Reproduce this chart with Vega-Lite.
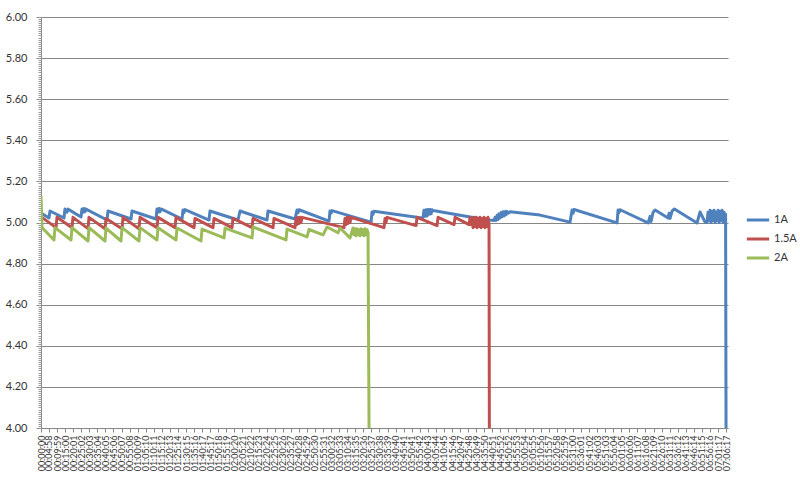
{
  "$schema": "https://vega.github.io/schema/vega-lite/v6.json",
  "width": 687,
  "height": 411,
  "autosize": {"type": "none"},
  "padding": {"left": 41, "top": 17, "right": 72, "bottom": 52},
  "background": "white",
  "config": {"view": {"stroke": null}, "font": "Lato"},
  "data": {"values": [
    {"s":"1A","t":0,"v":5.046},{"s":"1A","t":299,"v":5.022},{"s":"1A","t":336,"v":5.056},{"s":"1A","t":859,"v":5.022},{"s":"1A","t":896,"v":5.066},{"s":"1A","t":971,"v":5.05},{"s":"1A","t":1008,"v":5.065},{"s":"1A","t":1494,"v":5.027},{"s":"1A","t":1531,"v":5.066},{"s":"1A","t":1568,"v":5.05},{"s":"1A","t":1605,"v":5.068},{"s":"1A","t":1643,"v":5.052},{"s":"1A","t":1680,"v":5.065},{"s":"1A","t":2464,"v":5.012},{"s":"1A","t":2502,"v":5.056},{"s":"1A","t":3361,"v":5.017},{"s":"1A","t":3398,"v":5.056},{"s":"1A","t":4294,"v":5.017},{"s":"1A","t":4331,"v":5.066},{"s":"1A","t":4369,"v":5.05},{"s":"1A","t":4406,"v":5.068},{"s":"1A","t":4443,"v":5.052},{"s":"1A","t":4481,"v":5.066},{"s":"1A","t":5265,"v":5.017},{"s":"1A","t":5302,"v":5.061},{"s":"1A","t":5340,"v":5.048},{"s":"1A","t":5377,"v":5.063},{"s":"1A","t":6273,"v":5.012},{"s":"1A","t":6310,"v":5.056},{"s":"1A","t":7356,"v":5.012},{"s":"1A","t":7431,"v":5.056},{"s":"1A","t":8439,"v":5.012},{"s":"1A","t":8476,"v":5.056},{"s":"1A","t":9484,"v":5.017},{"s":"1A","t":9559,"v":5.061},{"s":"1A","t":9596,"v":5.048},{"s":"1A","t":9634,"v":5.062},{"s":"1A","t":10754,"v":5.007},{"s":"1A","t":10791,"v":5.056},{"s":"1A","t":10829,"v":5.045},{"s":"1A","t":10866,"v":5.058},{"s":"1A","t":12322,"v":5.002},{"s":"1A","t":12360,"v":5.051},{"s":"1A","t":12397,"v":5.04},{"s":"1A","t":12434,"v":5.055},{"s":"1A","t":14227,"v":5.022},{"s":"1A","t":14265,"v":5.025},{"s":"1A","t":14300,"v":5.06},{"s":"1A","t":14340,"v":5.03},{"s":"1A","t":14375,"v":5.062},{"s":"1A","t":14415,"v":5.032},{"s":"1A","t":14450,"v":5.063},{"s":"1A","t":14490,"v":5.04},{"s":"1A","t":14525,"v":5.063},{"s":"1A","t":14565,"v":5.042},{"s":"1A","t":14600,"v":5.062},{"s":"1A","t":14638,"v":5.058},{"s":"1A","t":16019,"v":5.027},{"s":"1A","t":16765,"v":5.012},{"s":"1A","t":16915,"v":5.01},{"s":"1A","t":16952,"v":5.025},{"s":"1A","t":16990,"v":5.01},{"s":"1A","t":17030,"v":5.035},{"s":"1A","t":17065,"v":5.015},{"s":"1A","t":17100,"v":5.042},{"s":"1A","t":17140,"v":5.022},{"s":"1A","t":17180,"v":5.048},{"s":"1A","t":17215,"v":5.028},{"s":"1A","t":17250,"v":5.052},{"s":"1A","t":17290,"v":5.032},{"s":"1A","t":17330,"v":5.053},{"s":"1A","t":17365,"v":5.038},{"s":"1A","t":17400,"v":5.054},{"s":"1A","t":17440,"v":5.045},{"s":"1A","t":17512,"v":5.052},{"s":"1A","t":18633,"v":5.036},{"s":"1A","t":19753,"v":5.002},{"s":"1A","t":19828,"v":5.061},{"s":"1A","t":19865,"v":5.045},{"s":"1A","t":19903,"v":5.063},{"s":"1A","t":21508,"v":4.998},{"s":"1A","t":21546,"v":5.061},{"s":"1A","t":21583,"v":5.048},{"s":"1A","t":21620,"v":5.062},{"s":"1A","t":22667,"v":4.998},{"s":"1A","t":22741,"v":5.03},{"s":"1A","t":22779,"v":5.005},{"s":"1A","t":22854,"v":5.05},{"s":"1A","t":22928,"v":5.061},{"s":"1A","t":23413,"v":5.022},{"s":"1A","t":23450,"v":5.045},{"s":"1A","t":23487,"v":5.02},{"s":"1A","t":23562,"v":5.055},{"s":"1A","t":23650,"v":5.066},{"s":"1A","t":24495,"v":4.998},{"s":"1A","t":24607,"v":5.051},{"s":"1A","t":24794,"v":5.002},{"s":"1A","t":24868,"v":5.0},{"s":"1A","t":24905,"v":5.05},{"s":"1A","t":24943,"v":5.01},{"s":"1A","t":24980,"v":5.06},{"s":"1A","t":25017,"v":5.0},{"s":"1A","t":25055,"v":5.055},{"s":"1A","t":25092,"v":5.01},{"s":"1A","t":25130,"v":5.06},{"s":"1A","t":25167,"v":5.0},{"s":"1A","t":25204,"v":5.05},{"s":"1A","t":25242,"v":5.01},{"s":"1A","t":25279,"v":5.06},{"s":"1A","t":25317,"v":5.0},{"s":"1A","t":25354,"v":5.055},{"s":"1A","t":25391,"v":5.01},{"s":"1A","t":25429,"v":5.06},{"s":"1A","t":25466,"v":5.0},{"s":"1A","t":25503,"v":5.05},{"s":"1A","t":25541,"v":5.02},{"s":"1A","t":25560,"v":5.04},{"s":"1A","t":25577,"v":4.0},
    {"s":"1.5A","t":0,"v":4.99},{"s":"1.5A","t":37,"v":5.025},{"s":"1.5A","t":560,"v":4.975},{"s":"1.5A","t":597,"v":5.025},{"s":"1.5A","t":1158,"v":4.975},{"s":"1.5A","t":1195,"v":5.025},{"s":"1.5A","t":1755,"v":4.97},{"s":"1.5A","t":1792,"v":5.025},{"s":"1.5A","t":2390,"v":4.97},{"s":"1.5A","t":2427,"v":5.02},{"s":"1.5A","t":3025,"v":4.97},{"s":"1.5A","t":3062,"v":5.025},{"s":"1.5A","t":3659,"v":4.97},{"s":"1.5A","t":3697,"v":5.025},{"s":"1.5A","t":4331,"v":4.975},{"s":"1.5A","t":4369,"v":5.025},{"s":"1.5A","t":5004,"v":4.975},{"s":"1.5A","t":5041,"v":5.025},{"s":"1.5A","t":5713,"v":4.975},{"s":"1.5A","t":5750,"v":5.02},{"s":"1.5A","t":6422,"v":4.975},{"s":"1.5A","t":6460,"v":5.02},{"s":"1.5A","t":7132,"v":4.975},{"s":"1.5A","t":7169,"v":5.02},{"s":"1.5A","t":7879,"v":4.975},{"s":"1.5A","t":7916,"v":5.02},{"s":"1.5A","t":8663,"v":4.975},{"s":"1.5A","t":8700,"v":5.02},{"s":"1.5A","t":9484,"v":4.975},{"s":"1.5A","t":9522,"v":5.02},{"s":"1.5A","t":9559,"v":4.99},{"s":"1.5A","t":9596,"v":5.025},{"s":"1.5A","t":9634,"v":4.995},{"s":"1.5A","t":9671,"v":5.025},{"s":"1.5A","t":9708,"v":5.0},{"s":"1.5A","t":9746,"v":5.025},{"s":"1.5A","t":11314,"v":4.975},{"s":"1.5A","t":11351,"v":5.02},{"s":"1.5A","t":11389,"v":4.99},{"s":"1.5A","t":11426,"v":5.025},{"s":"1.5A","t":11463,"v":4.995},{"s":"1.5A","t":11500,"v":5.025},{"s":"1.5A","t":11538,"v":5.0},{"s":"1.5A","t":11575,"v":5.025},{"s":"1.5A","t":12808,"v":4.975},{"s":"1.5A","t":12845,"v":5.02},{"s":"1.5A","t":12882,"v":5.0},{"s":"1.5A","t":12920,"v":5.025},{"s":"1.5A","t":14003,"v":4.985},{"s":"1.5A","t":14040,"v":5.025},{"s":"1.5A","t":14787,"v":4.985},{"s":"1.5A","t":14824,"v":5.025},{"s":"1.5A","t":15421,"v":4.99},{"s":"1.5A","t":15459,"v":5.025},{"s":"1.5A","t":15982,"v":4.99},{"s":"1.5A","t":16019,"v":5.025},{"s":"1.5A","t":16056,"v":4.99},{"s":"1.5A","t":16094,"v":5.02},{"s":"1.5A","t":16131,"v":4.975},{"s":"1.5A","t":16168,"v":5.025},{"s":"1.5A","t":16206,"v":4.98},{"s":"1.5A","t":16243,"v":5.025},{"s":"1.5A","t":16280,"v":4.975},{"s":"1.5A","t":16318,"v":5.02},{"s":"1.5A","t":16355,"v":4.98},{"s":"1.5A","t":16392,"v":5.025},{"s":"1.5A","t":16430,"v":4.975},{"s":"1.5A","t":16467,"v":5.02},{"s":"1.5A","t":16504,"v":4.98},{"s":"1.5A","t":16542,"v":5.025},{"s":"1.5A","t":16579,"v":4.975},{"s":"1.5A","t":16616,"v":5.02},{"s":"1.5A","t":16654,"v":4.98},{"s":"1.5A","t":16691,"v":5.025},{"s":"1.5A","t":16728,"v":4.99},{"s":"1.5A","t":16740,"v":4.0},
    {"s":"2A","t":0,"v":5.13},{"s":"2A","t":37,"v":4.975},{"s":"2A","t":485,"v":4.915},{"s":"2A","t":523,"v":4.975},{"s":"2A","t":1120,"v":4.915},{"s":"2A","t":1158,"v":4.975},{"s":"2A","t":1755,"v":4.91},{"s":"2A","t":1792,"v":4.975},{"s":"2A","t":2390,"v":4.91},{"s":"2A","t":2427,"v":4.973},{"s":"2A","t":2987,"v":4.91},{"s":"2A","t":3025,"v":4.975},{"s":"2A","t":3659,"v":4.91},{"s":"2A","t":3697,"v":4.975},{"s":"2A","t":4331,"v":4.915},{"s":"2A","t":4369,"v":4.975},{"s":"2A","t":5041,"v":4.915},{"s":"2A","t":5078,"v":4.973},{"s":"2A","t":5974,"v":4.91},{"s":"2A","t":6012,"v":4.968},{"s":"2A","t":6833,"v":4.925},{"s":"2A","t":6871,"v":4.973},{"s":"2A","t":7879,"v":4.925},{"s":"2A","t":7916,"v":4.978},{"s":"2A","t":9148,"v":4.915},{"s":"2A","t":9186,"v":4.968},{"s":"2A","t":9933,"v":4.93},{"s":"2A","t":10007,"v":4.966},{"s":"2A","t":10530,"v":4.94},{"s":"2A","t":10679,"v":4.978},{"s":"2A","t":11090,"v":4.95},{"s":"2A","t":11165,"v":4.973},{"s":"2A","t":11538,"v":4.925},{"s":"2A","t":11650,"v":4.973},{"s":"2A","t":11687,"v":4.94},{"s":"2A","t":11725,"v":4.97},{"s":"2A","t":11762,"v":4.935},{"s":"2A","t":11799,"v":4.97},{"s":"2A","t":11837,"v":4.94},{"s":"2A","t":11874,"v":4.965},{"s":"2A","t":11911,"v":4.935},{"s":"2A","t":11949,"v":4.97},{"s":"2A","t":11986,"v":4.94},{"s":"2A","t":12023,"v":4.965},{"s":"2A","t":12061,"v":4.935},{"s":"2A","t":12098,"v":4.97},{"s":"2A","t":12135,"v":4.94},{"s":"2A","t":12173,"v":4.965},{"s":"2A","t":12210,"v":4.95},{"s":"2A","t":12248,"v":4.0}
  ]},
  "layer": [
    {
      "mark": {"type": "line", "strokeWidth": 3, "strokeJoin": "round", "clip": true},
      "encoding": {
        "x": {"field": "t", "type": "quantitative",
          "scale": {"domain": [0, 25650], "nice": false, "zero": false},
          "axis": {"title": null, "grid": false,
            "values": [0,298,599,900,1201,1502,1803,2104,2405,2706,3007,3308,3609,3910,4211,4512,4813,5114,5415,5716,6017,6317,6618,6919,7220,7521,7822,8123,8424,8725,9026,9327,9628,9929,10230,10531,10832,11133,11434,11735,12036,12337,12638,12939,13240,13541,13841,14142,14443,14744,15045,15346,15647,15948,16249,16550,16851,17152,17452,17753,18054,18355,18656,18957,19258,19559,19860,20161,20462,20763,21063,21364,21665,21966,22267,22568,22869,23170,23471,23772,24073,24374,24675,24976,25277,25577],
            "labelExpr": "utcFormat(datum.value*1000, '%H:%M:%S')",
            "labelAngle": 270, "labelFontSize": 9, "labelColor": "#333333",
            "labelOverlap": false, "labelPadding": 3, "labelFlush": false,
            "tickSize": 4, "tickColor": "#868686", "domainColor": "#868686"}},
        "y": {"field": "v", "type": "quantitative",
          "scale": {"domain": [4, 6], "nice": false, "zero": false},
          "axis": {"title": null, "values": [4, 4.2, 4.4, 4.6, 4.8, 5, 5.2, 5.4, 5.6, 5.8, 6],
            "format": ".2f", "grid": true, "gridColor": "#868686", "gridWidth": 1,
            "domainColor": "#868686", "tickColor": "#868686", "tickSize": 5,
            "labelFontSize": 11, "labelColor": "#333333", "labelPadding": 9}},
        "color": {"field": "s", "type": "nominal",
          "scale": {"domain": ["1A", "1.5A", "2A"], "range": ["#4F81BD", "#C0504D", "#9BBB59"]},
          "legend": {"title": null, "orient": "none", "legendX": 704, "legendY": 190,
            "symbolType": "stroke", "symbolStrokeWidth": 3, "symbolSize": 500,
            "labelFontSize": 11, "labelColor": "#333333", "rowPadding": 0,
            "labelOffset": 3, "padding": 0}}
      }
    },
    {
      "mark": {"type": "rule", "opacity": 0},
      "encoding": {
        "y": {"field": "v", "type": "quantitative",
          "axis": {"orient": "left", "title": null, "labels": false, "grid": false,
            "domain": false, "ticks": true, "tickCount": 200, "tickSize": 3, "tickColor": "#9a9a9a"}}
      }
    }
  ],
  "resolve": {"axis": {"y": "independent"}}
}
